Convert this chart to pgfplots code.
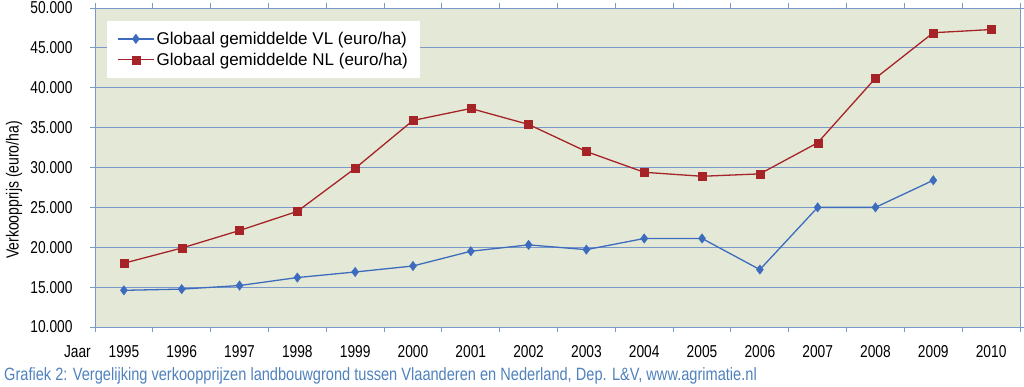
\documentclass[border=0pt]{standalone}
\usepackage{fontspec}
\setmainfont{Liberation Sans}
\newfontfamily\condfont[FakeStretch=0.8]{Liberation Sans}
\newfontfamily\capfont[FakeStretch=0.82]{Liberation Sans}
\usepackage{pgfplots}
\pgfplotsset{compat=1.18}
\definecolor{bgc}{RGB}{227,233,214}
\definecolor{gridc}{RGB}{122,152,200}
\definecolor{vlc}{RGB}{61,108,190}
\definecolor{nlc}{RGB}{166,35,40}
\definecolor{capc}{RGB}{79,129,189}
\begin{document}
\begin{tikzpicture}[x=1pt,y=1pt]
\path[use as bounding box] (0,0) rectangle (1024,386);
\begin{axis}[
  at={(95pt,59pt)}, anchor=south west,
  scale only axis, width=925pt, height=319pt,
  xmin=1994.5, xmax=2010.5, ymin=10000, ymax=50000,
  axis background/.style={fill=bgc},
  axis line style={gridc, line width=1pt},
  ytick={10000,15000,...,50000},
  scaled y ticks=false,
  ymajorgrids, grid style={gridc, line width=0.9pt},
  xtick={1994.5,1995.5,1996.5,1997.5,1998.5,1999.5,2000.5,2001.5,2002.5,2003.5,2004.5,2005.5,2006.5,2007.5,2008.5,2009.5,2010.5},
  xticklabels={},
  extra x ticks={1995,1996,1997,1998,1999,2000,2001,2002,2003,2004,2005,2006,2007,2008,2009,2010},
  extra x tick labels={1995,1996,1997,1998,1999,2000,2001,2002,2003,2004,2005,2006,2007,2008,2009,2010},
  extra x tick style={major tick length=0pt, grid=none},
  tick align=outside, major tick length=5pt,
  tick style={gridc, line width=1pt},
  ticklabel style={font=\condfont\fontsize{17.2}{19}\selectfont, text=black},
  xticklabel style={yshift=-15pt},
  yticklabel style={/pgf/number format/fixed, /pgf/number format/precision=0, /pgf/number format/1000 sep={.}, xshift=-14pt},
  /pgf/number format/assume math mode=true,
  legend style={at={(0.013,0.96)}, anchor=north west, draw=none, fill=white,
    font=\fontsize{17}{20}\selectfont, inner xsep=10pt, inner ysep=9pt,
    row sep=3pt, legend cell align=left},
  legend image code/.code={\draw[mark repeat=2,mark phase=2,#1] plot coordinates {(0pt,0pt) (18pt,0pt) (36pt,0pt)};},
]
\addplot[vlc, line width=1.3pt, mark=diamond*, mark size=4.8pt, mark options={fill=vlc, draw=vlc, line width=0.3pt}] coordinates {
(1995,14600) (1996,14750) (1997,15200) (1998,16200) (1999,16900) (2000,17650)
(2001,19500) (2002,20300) (2003,19700) (2004,21100) (2005,21100) (2006,17200)
(2007,25000) (2008,25000) (2009,28400)};
\addlegendentry{Globaal gemiddelde VL (euro/ha)}
\addplot[nlc, line width=1.3pt, mark=square*, mark size=4pt, mark options={fill=nlc, draw=nlc, line width=0.3pt}] coordinates {
(1995,18000) (1996,19900) (1997,22100) (1998,24500) (1999,29900) (2000,35900)
(2001,37400) (2002,35400) (2003,32000) (2004,29400) (2005,28900) (2006,29200)
(2007,33100) (2008,41200) (2009,46900) (2010,47300)};
\addlegendentry{Globaal gemiddelde NL (euro/ha)}
\end{axis}
\node[anchor=east, font=\condfont\fontsize{17.2}{19}\selectfont, inner sep=0pt] at (91,34) {Jaar};
\node[rotate=90, font=\condfont\fontsize{17.5}{19}\selectfont, inner sep=0pt] at (14,196) {Verkoopprijs (euro/ha)};
\node[anchor=west, font=\capfont\fontsize{17.8}{19}\selectfont, text=capc, inner sep=0pt] at (4,10) {Grafiek 2: Vergelijking verkoopprijzen landbouwgrond tussen Vlaanderen en Nederland, Dep. L\&V, www.agrimatie.nl};
\end{tikzpicture}
\end{document}
